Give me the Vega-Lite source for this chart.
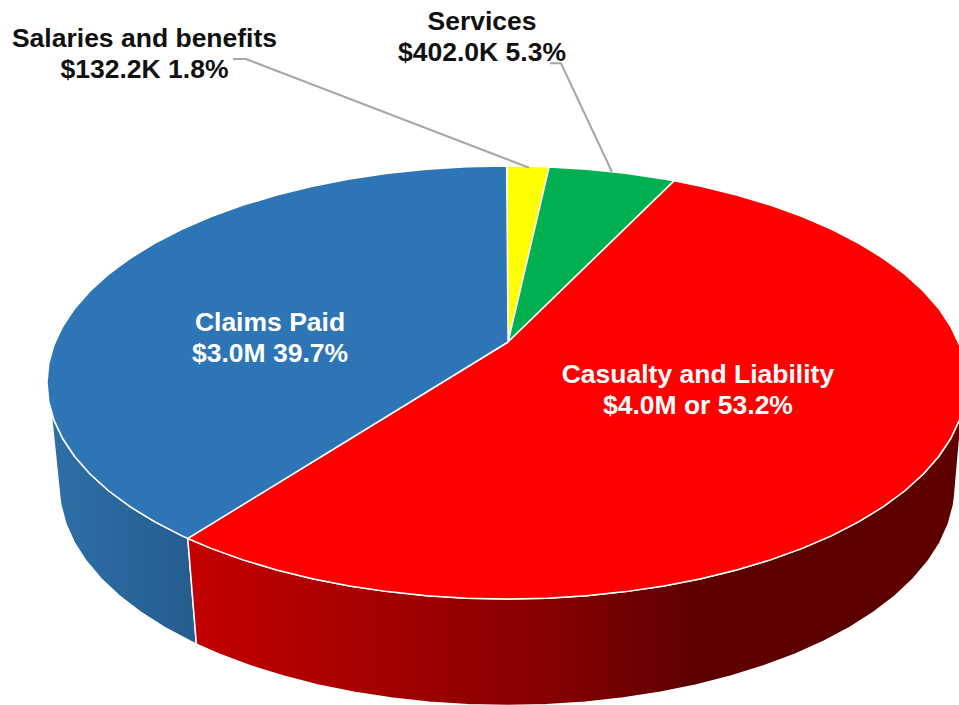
{
"$schema":"https://vega.github.io/schema/vega-lite/v6.json",
"width":959,"height":705,"padding":0,"autosize":{"type":"none"},
"background":"white",
"config":{"view":{"stroke":null}},
"datasets":{
"walls":[
{"slice":"Claims Paid","seq":1,"x":-0.6937,"y":-0.7203},{"slice":"Claims Paid","seq":2,"x":-0.7071,"y":-0.7071},{"slice":"Claims Paid","seq":3,"x":-0.766,"y":-0.6428},{"slice":"Claims Paid","seq":4,"x":-0.8192,"y":-0.5736},{"slice":"Claims Paid","seq":5,"x":-0.866,"y":-0.5},{"slice":"Claims Paid","seq":6,"x":-0.9063,"y":-0.4226},{"slice":"Claims Paid","seq":7,"x":-0.9397,"y":-0.342},{"slice":"Claims Paid","seq":8,"x":-0.9659,"y":-0.2588},{"slice":"Claims Paid","seq":9,"x":-0.9848,"y":-0.1736},{"slice":"Claims Paid","seq":10,"x":-0.9914,"y":-0.1305},
{"slice":"Claims Paid","seq":11,"x":-0.9721,"y":-0.5311},{"slice":"Claims Paid","seq":12,"x":-0.9698,"y":-0.5664},{"slice":"Claims Paid","seq":13,"x":-0.9587,"y":-0.654},{"slice":"Claims Paid","seq":14,"x":-0.9403,"y":-0.7404},{"slice":"Claims Paid","seq":15,"x":-0.9147,"y":-0.8248},{"slice":"Claims Paid","seq":16,"x":-0.8822,"y":-0.9064},{"slice":"Claims Paid","seq":17,"x":-0.8429,"y":-0.985},{"slice":"Claims Paid","seq":18,"x":-0.7973,"y":-1.0596},{"slice":"Claims Paid","seq":19,"x":-0.7455,"y":-1.1297},{"slice":"Claims Paid","seq":20,"x":-0.6881,"y":-1.1949},{"slice":"Claims Paid","seq":21,"x":-0.675,"y":-1.2083},{"slice":"Claims Paid","seq":22,"x":-0.6937,"y":-0.7203},
{"slice":"Casualty and Liability","seq":1,"x":-0.6937,"y":-0.7203},{"slice":"Casualty and Liability","seq":2,"x":-0.6428,"y":-0.766},{"slice":"Casualty and Liability","seq":3,"x":-0.5736,"y":-0.8192},{"slice":"Casualty and Liability","seq":4,"x":-0.5,"y":-0.866},{"slice":"Casualty and Liability","seq":5,"x":-0.4226,"y":-0.9063},{"slice":"Casualty and Liability","seq":6,"x":-0.342,"y":-0.9397},{"slice":"Casualty and Liability","seq":7,"x":-0.2588,"y":-0.9659},{"slice":"Casualty and Liability","seq":8,"x":-0.1736,"y":-0.9848},{"slice":"Casualty and Liability","seq":9,"x":-0.0872,"y":-0.9962},{"slice":"Casualty and Liability","seq":10,"x":0,"y":-1},{"slice":"Casualty and Liability","seq":11,"x":0.0872,"y":-0.9962},{"slice":"Casualty and Liability","seq":12,"x":0.1736,"y":-0.9848},{"slice":"Casualty and Liability","seq":13,"x":0.2588,"y":-0.9659},{"slice":"Casualty and Liability","seq":14,"x":0.342,"y":-0.9397},{"slice":"Casualty and Liability","seq":15,"x":0.4226,"y":-0.9063},{"slice":"Casualty and Liability","seq":16,"x":0.5,"y":-0.866},{"slice":"Casualty and Liability","seq":17,"x":0.5736,"y":-0.8192},{"slice":"Casualty and Liability","seq":18,"x":0.6428,"y":-0.766},{"slice":"Casualty and Liability","seq":19,"x":0.7071,"y":-0.7071},{"slice":"Casualty and Liability","seq":20,"x":0.766,"y":-0.6428},{"slice":"Casualty and Liability","seq":21,"x":0.8192,"y":-0.5736},{"slice":"Casualty and Liability","seq":22,"x":0.866,"y":-0.5},{"slice":"Casualty and Liability","seq":23,"x":0.9063,"y":-0.4226},{"slice":"Casualty and Liability","seq":24,"x":0.9397,"y":-0.342},{"slice":"Casualty and Liability","seq":25,"x":0.9659,"y":-0.2588},{"slice":"Casualty and Liability","seq":26,"x":0.9848,"y":-0.1736},{"slice":"Casualty and Liability","seq":27,"x":0.9903,"y":-0.1392},
{"slice":"Casualty and Liability","seq":28,"x":0.9741,"y":-0.5311},{"slice":"Casualty and Liability","seq":29,"x":0.9718,"y":-0.5664},{"slice":"Casualty and Liability","seq":30,"x":0.9607,"y":-0.654},{"slice":"Casualty and Liability","seq":31,"x":0.9423,"y":-0.7404},{"slice":"Casualty and Liability","seq":32,"x":0.9167,"y":-0.8248},{"slice":"Casualty and Liability","seq":33,"x":0.8842,"y":-0.9064},{"slice":"Casualty and Liability","seq":34,"x":0.8449,"y":-0.985},{"slice":"Casualty and Liability","seq":35,"x":0.7993,"y":-1.0596},{"slice":"Casualty and Liability","seq":36,"x":0.7475,"y":-1.1297},{"slice":"Casualty and Liability","seq":37,"x":0.6901,"y":-1.1949},{"slice":"Casualty and Liability","seq":38,"x":0.6274,"y":-1.2546},{"slice":"Casualty and Liability","seq":39,"x":0.56,"y":-1.3085},{"slice":"Casualty and Liability","seq":40,"x":0.4883,"y":-1.356},{"slice":"Casualty and Liability","seq":41,"x":0.4128,"y":-1.3969},{"slice":"Casualty and Liability","seq":42,"x":0.3343,"y":-1.4307},{"slice":"Casualty and Liability","seq":43,"x":0.2532,"y":-1.4573},{"slice":"Casualty and Liability","seq":44,"x":0.1702,"y":-1.4765},{"slice":"Casualty and Liability","seq":45,"x":0.086,"y":-1.488},{"slice":"Casualty and Liability","seq":46,"x":0.001,"y":-1.4919},{"slice":"Casualty and Liability","seq":47,"x":-0.084,"y":-1.488},{"slice":"Casualty and Liability","seq":48,"x":-0.1682,"y":-1.4765},{"slice":"Casualty and Liability","seq":49,"x":-0.2512,"y":-1.4573},{"slice":"Casualty and Liability","seq":50,"x":-0.3323,"y":-1.4307},{"slice":"Casualty and Liability","seq":51,"x":-0.4108,"y":-1.3969},{"slice":"Casualty and Liability","seq":52,"x":-0.4863,"y":-1.356},{"slice":"Casualty and Liability","seq":53,"x":-0.558,"y":-1.3085},{"slice":"Casualty and Liability","seq":54,"x":-0.6254,"y":-1.2546},{"slice":"Casualty and Liability","seq":55,"x":-0.675,"y":-1.2083},{"slice":"Casualty and Liability","seq":56,"x":-0.6937,"y":-0.7203}
],
"top":[
{"slice":"Salaries and benefits","seq":1,"x":0.003,"y":0.187},{"slice":"Salaries and benefits","seq":2,"x":0,"y":1},{"slice":"Salaries and benefits","seq":3,"x":0.0523,"y":0.9986},{"slice":"Salaries and benefits","seq":4,"x":0.0924,"y":0.9957},{"slice":"Salaries and benefits","seq":5,"x":0.003,"y":0.187},
{"slice":"Services","seq":1,"x":0.003,"y":0.187},{"slice":"Services","seq":2,"x":0.0924,"y":0.9957},{"slice":"Services","seq":3,"x":0.1736,"y":0.9848},{"slice":"Services","seq":4,"x":0.2588,"y":0.9659},{"slice":"Services","seq":5,"x":0.342,"y":0.9397},{"slice":"Services","seq":6,"x":0.3641,"y":0.9314},{"slice":"Services","seq":7,"x":0.003,"y":0.187},
{"slice":"Casualty and Liability","seq":1,"x":0.003,"y":0.187},{"slice":"Casualty and Liability","seq":2,"x":0.3641,"y":0.9314},{"slice":"Casualty and Liability","seq":3,"x":0.4226,"y":0.9063},{"slice":"Casualty and Liability","seq":4,"x":0.5,"y":0.866},{"slice":"Casualty and Liability","seq":5,"x":0.5736,"y":0.8192},{"slice":"Casualty and Liability","seq":6,"x":0.6428,"y":0.766},{"slice":"Casualty and Liability","seq":7,"x":0.7071,"y":0.7071},{"slice":"Casualty and Liability","seq":8,"x":0.766,"y":0.6428},{"slice":"Casualty and Liability","seq":9,"x":0.8192,"y":0.5736},{"slice":"Casualty and Liability","seq":10,"x":0.866,"y":0.5},{"slice":"Casualty and Liability","seq":11,"x":0.9063,"y":0.4226},{"slice":"Casualty and Liability","seq":12,"x":0.9397,"y":0.342},{"slice":"Casualty and Liability","seq":13,"x":0.9659,"y":0.2588},{"slice":"Casualty and Liability","seq":14,"x":0.9848,"y":0.1736},{"slice":"Casualty and Liability","seq":15,"x":0.9962,"y":0.0872},{"slice":"Casualty and Liability","seq":16,"x":1,"y":0},{"slice":"Casualty and Liability","seq":17,"x":0.9962,"y":-0.0872},{"slice":"Casualty and Liability","seq":18,"x":0.9848,"y":-0.1736},{"slice":"Casualty and Liability","seq":19,"x":0.9659,"y":-0.2588},{"slice":"Casualty and Liability","seq":20,"x":0.9397,"y":-0.342},{"slice":"Casualty and Liability","seq":21,"x":0.9063,"y":-0.4226},{"slice":"Casualty and Liability","seq":22,"x":0.866,"y":-0.5},{"slice":"Casualty and Liability","seq":23,"x":0.8192,"y":-0.5736},{"slice":"Casualty and Liability","seq":24,"x":0.766,"y":-0.6428},{"slice":"Casualty and Liability","seq":25,"x":0.7071,"y":-0.7071},{"slice":"Casualty and Liability","seq":26,"x":0.6428,"y":-0.766},{"slice":"Casualty and Liability","seq":27,"x":0.5736,"y":-0.8192},{"slice":"Casualty and Liability","seq":28,"x":0.5,"y":-0.866},{"slice":"Casualty and Liability","seq":29,"x":0.4226,"y":-0.9063},{"slice":"Casualty and Liability","seq":30,"x":0.342,"y":-0.9397},{"slice":"Casualty and Liability","seq":31,"x":0.2588,"y":-0.9659},{"slice":"Casualty and Liability","seq":32,"x":0.1736,"y":-0.9848},{"slice":"Casualty and Liability","seq":33,"x":0.0872,"y":-0.9962},{"slice":"Casualty and Liability","seq":34,"x":0,"y":-1},{"slice":"Casualty and Liability","seq":35,"x":-0.0872,"y":-0.9962},{"slice":"Casualty and Liability","seq":36,"x":-0.1736,"y":-0.9848},{"slice":"Casualty and Liability","seq":37,"x":-0.2588,"y":-0.9659},{"slice":"Casualty and Liability","seq":38,"x":-0.342,"y":-0.9397},{"slice":"Casualty and Liability","seq":39,"x":-0.4226,"y":-0.9063},{"slice":"Casualty and Liability","seq":40,"x":-0.5,"y":-0.866},{"slice":"Casualty and Liability","seq":41,"x":-0.5736,"y":-0.8192},{"slice":"Casualty and Liability","seq":42,"x":-0.6428,"y":-0.766},{"slice":"Casualty and Liability","seq":43,"x":-0.6937,"y":-0.7203},{"slice":"Casualty and Liability","seq":44,"x":0.003,"y":0.187},
{"slice":"Claims Paid","seq":1,"x":0.003,"y":0.187},{"slice":"Claims Paid","seq":2,"x":-0.6937,"y":-0.7203},{"slice":"Claims Paid","seq":3,"x":-0.7071,"y":-0.7071},{"slice":"Claims Paid","seq":4,"x":-0.766,"y":-0.6428},{"slice":"Claims Paid","seq":5,"x":-0.8192,"y":-0.5736},{"slice":"Claims Paid","seq":6,"x":-0.866,"y":-0.5},{"slice":"Claims Paid","seq":7,"x":-0.9063,"y":-0.4226},{"slice":"Claims Paid","seq":8,"x":-0.9397,"y":-0.342},{"slice":"Claims Paid","seq":9,"x":-0.9659,"y":-0.2588},{"slice":"Claims Paid","seq":10,"x":-0.9848,"y":-0.1736},{"slice":"Claims Paid","seq":11,"x":-0.9962,"y":-0.0872},{"slice":"Claims Paid","seq":12,"x":-1,"y":0},{"slice":"Claims Paid","seq":13,"x":-0.9962,"y":0.0872},{"slice":"Claims Paid","seq":14,"x":-0.9848,"y":0.1736},{"slice":"Claims Paid","seq":15,"x":-0.9659,"y":0.2588},{"slice":"Claims Paid","seq":16,"x":-0.9397,"y":0.342},{"slice":"Claims Paid","seq":17,"x":-0.9063,"y":0.4226},{"slice":"Claims Paid","seq":18,"x":-0.866,"y":0.5},{"slice":"Claims Paid","seq":19,"x":-0.8192,"y":0.5736},{"slice":"Claims Paid","seq":20,"x":-0.766,"y":0.6428},{"slice":"Claims Paid","seq":21,"x":-0.7071,"y":0.7071},{"slice":"Claims Paid","seq":22,"x":-0.6428,"y":0.766},{"slice":"Claims Paid","seq":23,"x":-0.5736,"y":0.8192},{"slice":"Claims Paid","seq":24,"x":-0.5,"y":0.866},{"slice":"Claims Paid","seq":25,"x":-0.4226,"y":0.9063},{"slice":"Claims Paid","seq":26,"x":-0.342,"y":0.9397},{"slice":"Claims Paid","seq":27,"x":-0.2588,"y":0.9659},{"slice":"Claims Paid","seq":28,"x":-0.1736,"y":0.9848},{"slice":"Claims Paid","seq":29,"x":-0.0872,"y":0.9962},{"slice":"Claims Paid","seq":30,"x":0,"y":1},{"slice":"Claims Paid","seq":31,"x":0.003,"y":0.187}
],
"leaders":[
{"slice":"Salaries and benefits","seq":1,"x":-0.5954,"y":1.4942},{"slice":"Salaries and benefits","seq":2,"x":-0.5671,"y":1.4942},{"slice":"Salaries and benefits","seq":3,"x":0.0485,"y":0.9921},
{"slice":"Services","seq":1,"x":0.0942,"y":1.4744},{"slice":"Services","seq":2,"x":0.1181,"y":1.4744},{"slice":"Services","seq":3,"x":0.2291,"y":0.9723}
],
"labels":[
{"slice":"Salaries and benefits","label":"Salaries and benefits\n$132.2K 1.8%","x":-0.7879,"y":1.551},
{"slice":"Services","label":"Services\n$402.0K 5.3%","x":-0.0537,"y":1.6282},
{"slice":"Claims Paid","label":"Claims Paid\n$3.0M 39.7%","x":-0.5149,"y":0.2393},
{"slice":"Casualty and Liability","label":"Casualty and Liability\n$4.0M or 53.2%","x":0.416,"y":-0.0046}
]
},
"encoding":{
"x":{"field":"x","type":"quantitative","axis":null,"scale":{"domain":[-1.1022,0.9839],"nice":false,"zero":false}},
"y":{"field":"y","type":"quantitative","axis":null,"scale":{"domain":[-1.4896,1.7667],"nice":false,"zero":false}}
},
"layer":[
{"data":{"name":"walls"},"transform":[{"filter":"datum.slice === 'Claims Paid'"}],
"mark":{"type":"line","filled":false,"stroke":"#ffffff","strokeWidth":1.5,"strokeJoin":"round",
"fill":{"gradient":"linear","x1":0,"y1":0,"x2":1,"y2":0,"stops":[{"offset":0,"color":"#2e6fa8"},{"offset":1,"color":"#255c8f"}]}},
"encoding":{"order":{"field":"seq","type":"quantitative"}}},
{"data":{"name":"walls"},"transform":[{"filter":"datum.slice === 'Casualty and Liability'"}],
"mark":{"type":"line","filled":false,"stroke":"#ffffff","strokeWidth":1.5,"strokeJoin":"round",
"fill":{"gradient":"linear","x1":0,"y1":0,"x2":1,"y2":0,"stops":[{"offset":0,"color":"#c40000"},{"offset":0.275,"color":"#a00000"},{"offset":0.47,"color":"#860000"},{"offset":0.66,"color":"#5c0000"},{"offset":1,"color":"#5e0000"}]}},
"encoding":{"order":{"field":"seq","type":"quantitative"}}},
{"data":{"name":"top"},
"mark":{"type":"line","stroke":"#ffffff","strokeWidth":1.5,"strokeJoin":"round"},
"encoding":{
"fill":{"field":"slice","type":"nominal","legend":null,"scale":{"domain":["Claims Paid","Casualty and Liability","Services","Salaries and benefits"],"range":["#2e75b6","#ff0000","#00b050","#ffff00"]}},
"order":{"field":"seq","type":"quantitative"}}},
{"data":{"name":"leaders"},
"mark":{"type":"line","stroke":"#a6a6a6","strokeWidth":2},
"encoding":{"detail":{"field":"slice"},"order":{"field":"seq","type":"quantitative"}}},
{"data":{"name":"labels"},"transform":[{"filter":"datum.y > 1"}],
"mark":{"type":"text","font":"Liberation Sans","fontWeight":"bold","fontSize":26.5,"align":"center","baseline":"alphabetic","lineBreak":"\n","lineHeight":31,"fill":"#111111"},
"encoding":{"text":{"field":"label"}}},
{"data":{"name":"labels"},"transform":[{"filter":"datum.y <= 1"}],
"mark":{"type":"text","font":"Liberation Sans","fontWeight":"bold","fontSize":26.5,"align":"center","baseline":"alphabetic","lineBreak":"\n","lineHeight":31,"fill":"#ffffff"},
"encoding":{"text":{"field":"label"}}}
]
}
